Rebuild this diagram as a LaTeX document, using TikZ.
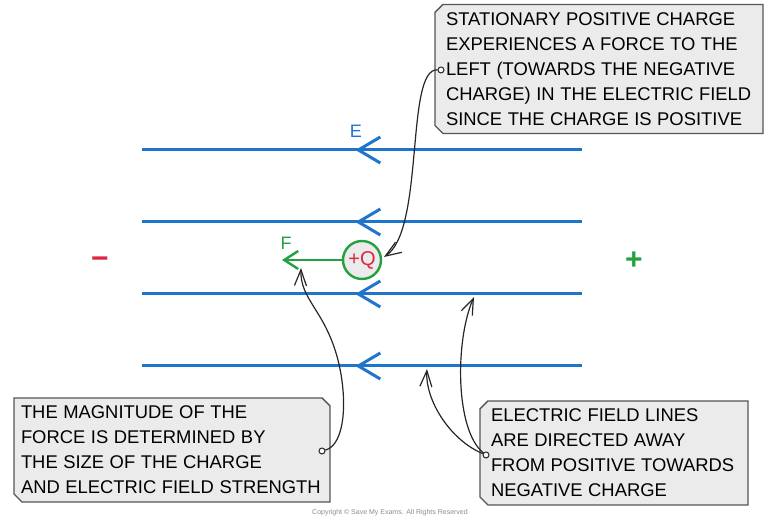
\documentclass[tikz,border=0pt]{standalone}
\usepackage{fontspec}
\setmainfont{Liberation Sans}
\usetikzlibrary{arrows.meta,shapes.misc,decorations.markings}
\definecolor{FieldBlue}{HTML}{1F74CC}
\definecolor{ChargeGreen}{HTML}{23A03F}
\definecolor{ChargeRed}{HTML}{DD2540}
\definecolor{NoteGrey}{HTML}{EBEBEB}
\definecolor{NoteEdge}{HTML}{555555}
\newcommand{\notespacing}{\spaceskip=0.3em\relax}

\begin{document}
\begin{tikzpicture}[
  x=0.5pt,y=-0.5pt,
  fieldline/.style={line width=1.5pt,draw=FieldBlue,postaction={decorate},
    decoration={markings,mark=at position 0.515 with {\arrow{Straight Barb[length=11pt,width=13pt,line width=1.5pt]}}}},
  note/.style={chamfered rectangle,chamfered rectangle sep=2pt,draw=NoteEdge,fill=NoteGrey,line width=0.7pt,
    align=left,inner ysep=2pt,font=\fontsize{9.2}{12.5}\selectfont,execute at begin node=\notespacing},
  charge/.style={circle,draw=ChargeGreen,line width=1.2pt,fill=black!8,text=ChargeRed,minimum size=19pt,inner sep=0pt,font=\fontsize{10}{10}\selectfont},
  force/.style={draw=ChargeGreen,line width=1.2pt,-{Straight Barb[length=7pt,width=9pt]}},
  callout/.style={draw=black!85,line width=0.6pt,-{Straight Barb[length=8pt,width=6pt]}},
  tagdot/.style={circle,draw=black!85,fill=white,line width=0.5pt,minimum size=3pt,inner sep=0pt},
  sign/.style={font=\fontsize{15}{15}\selectfont\bfseries}
]
\useasboundingbox (0,0) rectangle (778,522);
% field lines
\foreach \y in {150,222,294,366}
  \draw[fieldline] (582,\y) -- (142,\y);
\node[text=FieldBlue,font=\fontsize{9}{9}\selectfont] (elabel) at (356,131) {E};
\node[sign,text=ChargeRed] (neg) at (100,263) {−};
\node[sign,text=ChargeGreen] (pos) at (634,261) {+};
% charge and force
\node[charge] (q) at (362,260) {+Q};
\coordinate (ftip) at (282,260);
\draw[force] (q) -- (ftip);
\node[text=ChargeGreen,font=\fontsize{9}{9}\selectfont] (flabel) at (286,243) {F};
% notes
\node[note,chamfered rectangle corners={north west,south west},minimum height=60pt,
  text width=153pt,inner xsep=3.5pt] (topnote) at (599,69)
  {STATIONARY POSITIVE CHARGE\\EXPERIENCES A FORCE TO THE\\LEFT (TOWARDS THE NEGATIVE\\CHARGE) IN THE ELECTRIC FIELD\\SINCE THE CHARGE IS POSITIVE};
\node[note,chamfered rectangle corners={north east,south west},minimum height=46pt,
  text width=151pt,inner xsep=1.5pt] (sizenote) at (172,450)
  {THE MAGNITUDE OF THE\\FORCE IS DETERMINED BY\\THE SIZE OF THE CHARGE\\AND ELECTRIC FIELD STRENGTH};
\node[note,chamfered rectangle corners={north west,south west},minimum height=46pt,
  text width=123pt,inner xsep=3.5pt] (fieldnote) at (614,453)
  {ELECTRIC FIELD LINES\\ARE DIRECTED AWAY\\FROM POSITIVE TOWARDS\\NEGATIVE CHARGE};
% callouts
\node[tagdot] (d1) at (441,70) {};
\node[tagdot] (d2) at (322,451) {};
\node[tagdot] (d3) at (486,455) {};
\coordinate (qhit) at (384,257);
\coordinate (fhit) at (301,268);
\coordinate (lineA) at (474,297);
\coordinate (lineB) at (427,369);
\draw[callout] (d1) .. controls (405,68) and (425,230) .. (qhit);
\draw[callout] (d2) .. controls (345,445) and (348,400) .. (338,360) .. controls (325,310) and (300,300) .. (fhit);
\draw[callout] (d3) .. controls (455,430) and (455,340) .. (lineA);
\draw[callout] (d3) .. controls (450,440) and (425,400) .. (lineB);
\node[text=black!45,font=\fontsize{3.5}{4}\selectfont] (copy) at (390,513) {Copyright © Save My Exams. All Rights Reserved};
\end{tikzpicture}
\end{document}
